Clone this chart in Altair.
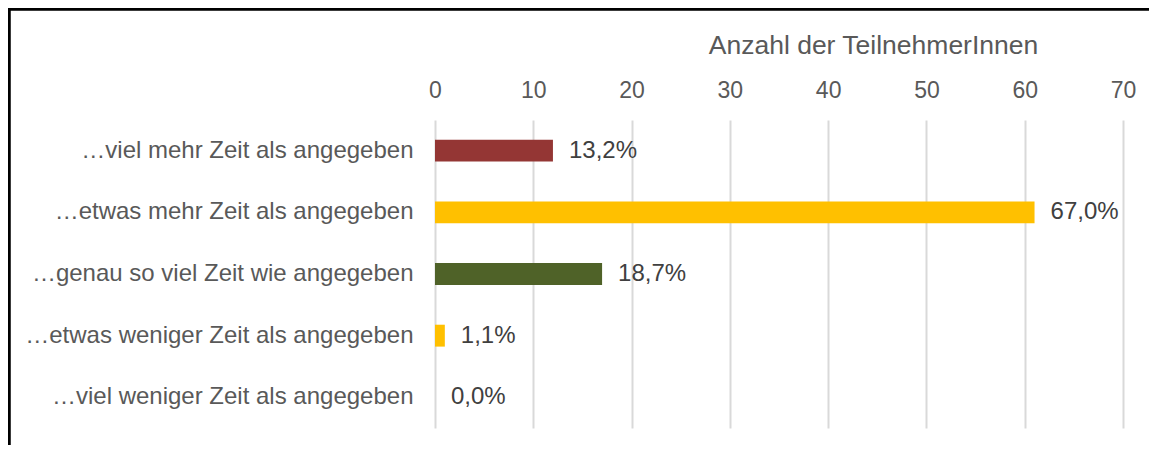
import altair as alt
import pandas as pd

categories = [
    "…viel mehr Zeit als angegeben",
    "…etwas mehr Zeit als angegeben",
    "…genau so viel Zeit wie angegeben",
    "…etwas weniger Zeit als angegeben",
    "…viel weniger Zeit als angegeben",
]
counts = [12, 61, 17, 1, 0]
pct_labels = ["13,2%", "67,0%", "18,7%", "1,1%", "0,0%"]
bar_colors = ["#943634", "#FFC000", "#4F6228", "#FFC000", "#FFC000"]
x_ticks = [0, 10, 20, 30, 40, 50, 60, 70]

df = pd.DataFrame({"cat": categories, "n": counts, "lab": pct_labels, "col": bar_colors})

FONT = "Liberation Sans"

y_enc = alt.Y("cat:N", sort=categories, title=None,
              scale=alt.Scale(paddingInner=0.645, paddingOuter=0.32),
              axis=alt.Axis(labelFontSize=24, labelColor="#595959", labelFont=FONT,
                            labelPadding=22, ticks=False, domain=False, labelLimit=500))
x_enc = alt.X("n:Q", title="Anzahl der TeilnehmerInnen",
              scale=alt.Scale(domain=[0, 70], nice=False),
              axis=alt.Axis(orient="top", values=x_ticks, ticks=False, domain=False,
                            labelFontSize=23, labelColor="#595959", labelFont=FONT,
                            labelPadding=18, labelFlush=False,
                            gridColor="#D9D9D9", gridWidth=2,
                            titleFontSize=26.5, titleColor="#595959", titleFont=FONT,
                            titleFontWeight="normal", titleX=438, titleY=-67,
                            titleAlign="center", titleBaseline="alphabetic"))

bars = alt.Chart(df).mark_bar().encode(
    x=x_enc, y=y_enc, color=alt.Color("col:N", scale=None)
)
labels = alt.Chart(df).mark_text(align="left", baseline="middle", dx=16, fontSize=24,
                                 font=FONT, color="#404040").encode(
    x="n:Q", y=alt.Y("cat:N", sort=categories), text="lab:N"
)
left_border = alt.Chart(df).mark_rule(color="black", strokeWidth=2.5).encode(
    x=alt.value(-426), y=alt.value(-111), y2=alt.value(330)
)
top_border = alt.Chart(df).mark_rule(color="black", strokeWidth=2.5).encode(
    x=alt.value(-427), x2=alt.value(720), y=alt.value(-111)
)

chart = alt.layer(bars, labels, left_border, top_border).properties(
    width=688, height=308,
    autosize=alt.AutoSizeParams(type="none"),
    padding={"left": 427, "top": 112, "right": 26, "bottom": 17},
    background="white",
).configure_view(stroke=None)

chart.save("out.html", embed_options={"renderer": "svg", "actions": False})
